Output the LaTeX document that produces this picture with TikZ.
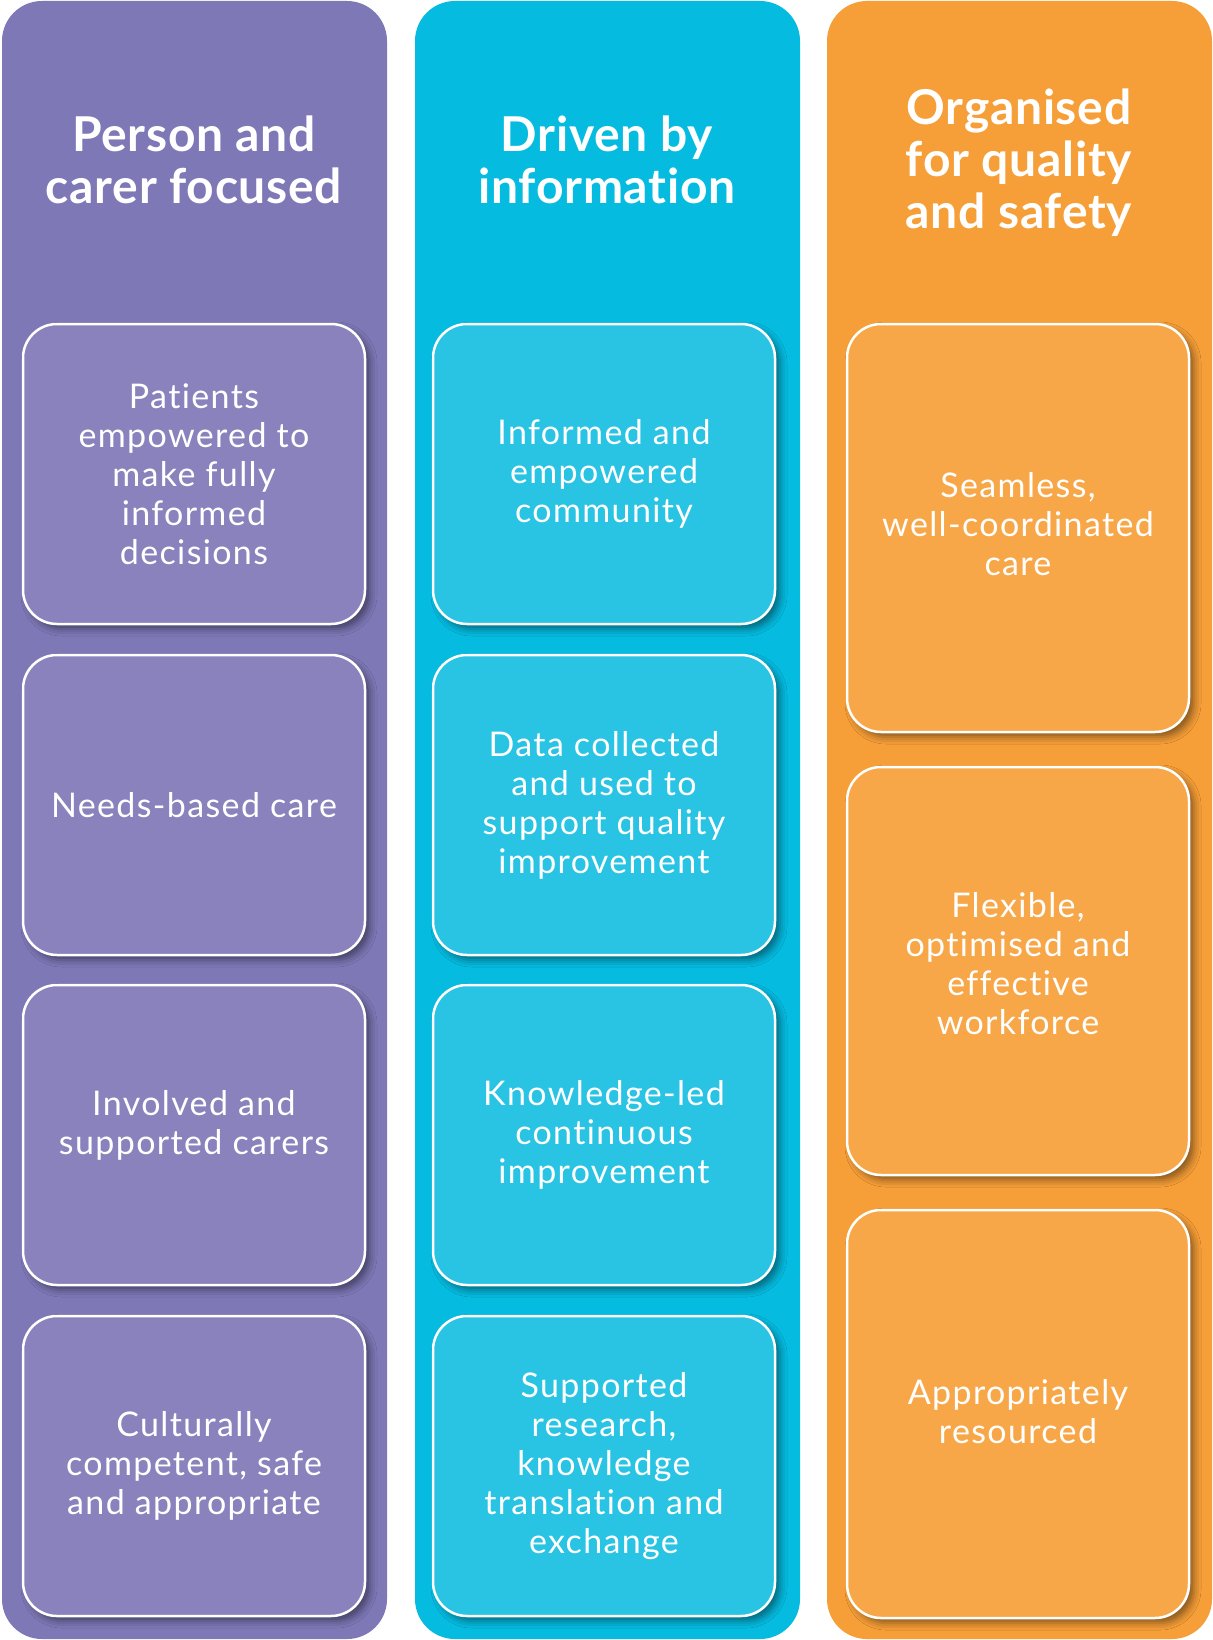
\documentclass[tikz,border=0pt]{standalone}
\usepackage{fontspec}
\setmainfont{Lato}[Ligatures=CommonOff]
\newfontfamily\boxfont{Lato}[Ligatures=CommonOff, LetterSpace=4]
\newfontfamily\headfont{Lato}[Ligatures=CommonOff, LetterSpace=1.5]
\usetikzlibrary{shadows.blur}

\definecolor{purplecol}{HTML}{7E78B7}
\definecolor{purplebox}{HTML}{8982BC}
\definecolor{cyancol}{HTML}{05BBE0}
\definecolor{cyanbox}{HTML}{29C3E3}
\definecolor{orangecol}{HTML}{F69E37}
\definecolor{orangebox}{HTML}{F8A748}

\tikzset{
  column/.style={rounded corners=40pt, minimum width=385pt, minimum height=1638pt, inner sep=0pt},
  heading/.style={text=white, align=center, font=\headfont\fontsize{48}{52}\selectfont\bfseries},
  pillar/.style={draw=white, line width=2.5pt, rounded corners=34pt, minimum width=342pt,
    blur shadow={shadow xshift=5pt, shadow yshift=-5pt, shadow opacity=45, shadow blur radius=7pt}},
  pillartext/.style={text=white, align=center, font=\boxfont\fontsize{34}{39}\selectfont}
}

\begin{document}
\begin{tikzpicture}[x=1pt, y=1pt]
  \fill[white] (0,0) rectangle (1212,-1640);
  \useasboundingbox (0,0) rectangle (1212,-1640);

  % columns
  \node[column, fill=purplecol] (colA) at (194.5,-820) {};
  \node[column, fill=cyancol] (colB) at (607.5,-820) {};
  \node[column, fill=orangecol] (colC) at (1019.5,-820) {};

  % headings
  \node[heading] (headA) at (194,-160) {Person and\\carer focused};
  \node[heading] (headB) at (607,-160) {Driven by\\information};
  \node[heading] (headC) at (1019,-163) {Organised\\for quality\\and safety};

  % person and carer focused
  \node[pillar, fill=purplebox, minimum height=300pt] (a1) at (194,-474) {};
  \node[pillar, fill=purplebox, minimum height=300pt] (a2) at (194,-805) {};
  \node[pillar, fill=purplebox, minimum height=300pt] (a3) at (194,-1135) {};
  \node[pillar, fill=purplebox, minimum height=300pt] (a4) at (194,-1466) {};
  \node[pillartext] (a1t) at (a1) {Patients\\empowered to\\make fully\\informed\\decisions};
  \node[pillartext] (a2t) at (a2) {Needs-based care};
  \node[pillartext] (a3t) at ([yshift=10pt]a3.center) {Involved and\\supported carers};
  \node[pillartext] (a4t) at (a4) {Culturally\\competent, safe\\and appropriate};

  % driven by information
  \node[pillar, fill=cyanbox, minimum height=300pt] (b1) at (604,-474) {};
  \node[pillar, fill=cyanbox, minimum height=300pt] (b2) at (604,-805) {};
  \node[pillar, fill=cyanbox, minimum height=300pt] (b3) at (604,-1135) {};
  \node[pillar, fill=cyanbox, minimum height=300pt] (b4) at (604,-1466) {};
  \node[pillartext] (b1t) at (b1) {Informed and\\empowered\\community};
  \node[pillartext] (b2t) at (b2) {Data collected\\and used to\\support quality\\improvement};
  \node[pillartext] (b3t) at (b3) {Knowledge-led\\continuous\\improvement};
  \node[pillartext] (b4t) at (b4) {Supported\\research,\\knowledge\\translation and\\exchange};

  % organised for quality and safety
  \node[pillar, fill=orangebox, minimum height=408pt] (c1) at (1018,-528) {};
  \node[pillar, fill=orangebox, minimum height=408pt] (c2) at (1018,-971) {};
  \node[pillar, fill=orangebox, minimum height=408pt] (c3) at (1018,-1414) {};
  \node[pillartext] (c1t) at ([yshift=4pt]c1.center) {Seamless,\\well-coordinated\\care};
  \node[pillartext] (c2t) at ([yshift=7pt]c2.center) {Flexible,\\optimised and\\effective\\workforce};
  \node[pillartext] (c3t) at ([yshift=2pt]c3.center) {Appropriately\\resourced};
\end{tikzpicture}
\end{document}
